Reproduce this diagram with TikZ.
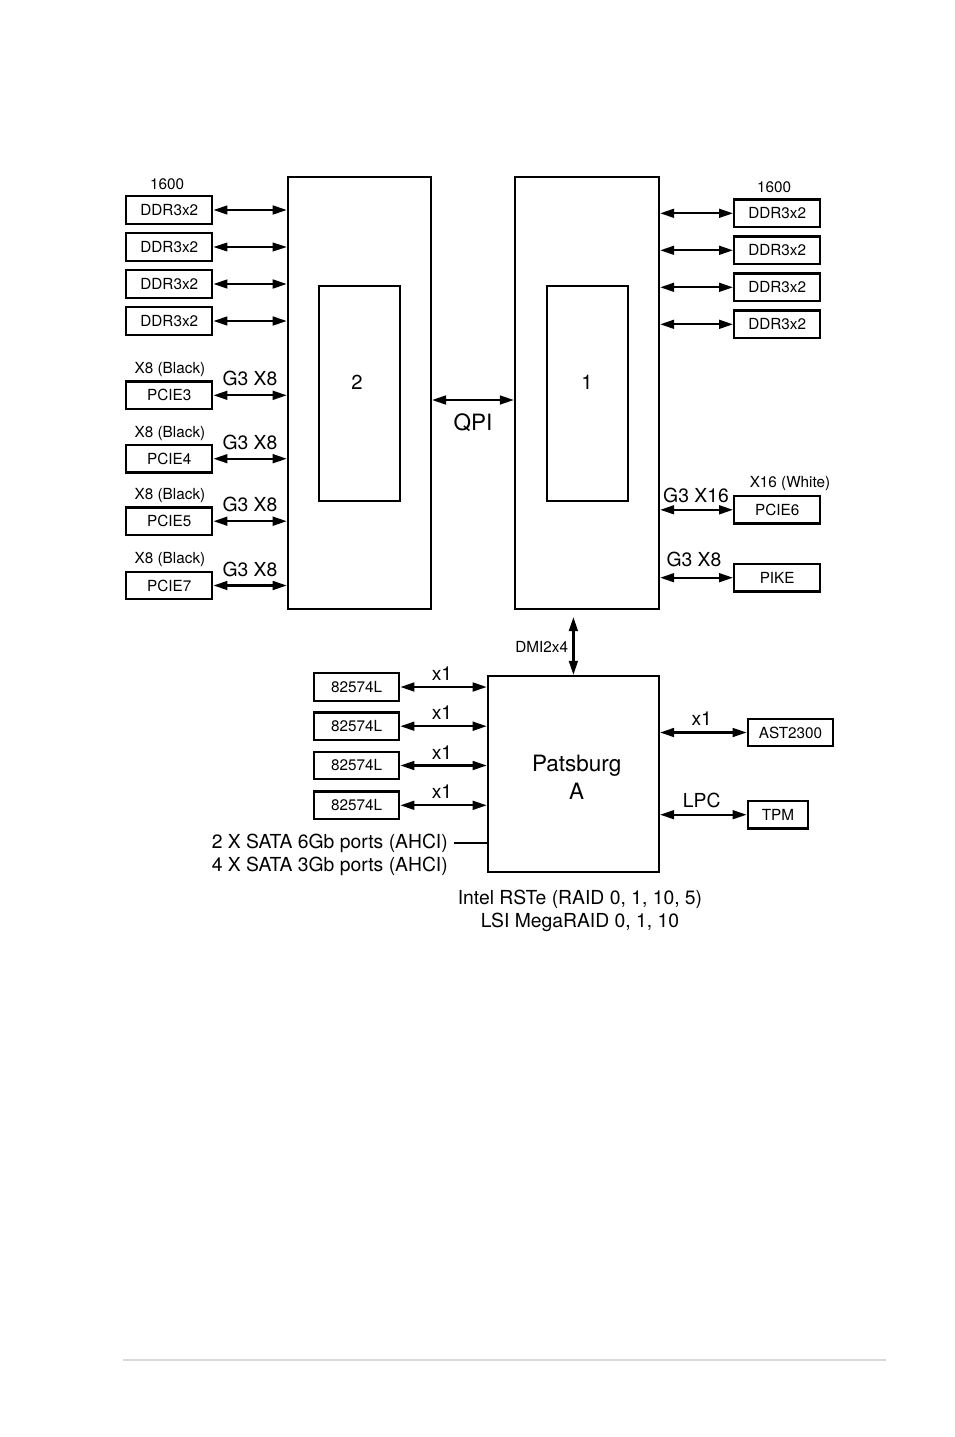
\documentclass[tikz,border=0pt]{standalone}
\usepackage{fontspec}
\setmainfont{TeX Gyre Heros}
\usetikzlibrary{arrows.meta, positioning}

\begin{document}
\begin{tikzpicture}[x=0.02cm, y=-0.02cm,
    chip/.style={draw, line width=1.3pt, inner sep=0pt},
    box/.style={draw, line width=1.3pt, inner sep=0pt, minimum width=1.72cm, minimum height=0.55cm, font=\fontsize{8.7}{10}\selectfont},
    small/.style={font=\fontsize{8.7}{10}\selectfont},
    mid/.style={font=\fontsize{11}{13}\selectfont},
    big/.style={font=\fontsize{12.8}{16}\selectfont},
    link/.style={line width=1.3pt, {Triangle[length=8pt,width=5pt]}-{Triangle[length=8pt,width=5pt]}},
    wire/.style={line width=1.3pt}]
  \useasboundingbox (0,0) rectangle (954,1437);

  \node[chip, minimum width=2.86cm, minimum height=8.64cm] (cpuTwo) at (359.4,393) {};
  \node[chip, minimum width=1.63cm, minimum height=4.3cm] (dieTwo) at (359.4,393.5) {};
  \node[font=\fontsize{11.5}{14}\selectfont] (numTwo) at (357,382) {2};
  \node[chip, minimum width=2.88cm, minimum height=8.64cm] (cpuOne) at (587,393) {};
  \node[chip, minimum width=1.63cm, minimum height=4.3cm] (dieOne) at (587.5,393.5) {};
  \node[font=\fontsize{11.5}{14}\selectfont] (numOne) at (587,382) {1};

  \coordinate (qpi) at (473,400);
  \draw[link] (qpi -| cpuTwo.east) -- (qpi -| cpuOne.west);
  \node[big] (qpiTag) at (473,423) {QPI};

  \node[small] (speedL) at (167,184) {1600};
  \foreach \i/\y/\w in {1/210/1.3pt, 2/247/0.7pt, 3/284/1.3pt, 4/321/1.3pt} {
    \node[box] (dimmL\i) at (169.3,\y) {DDR3x2};
    \draw[link, line width=\w] (dimmL\i.east) -- (dimmL\i -| cpuTwo.west);
  }
  \node[small] (speedR) at (774,187) {1600};
  \foreach \i/\y in {1/213.3, 2/250.3, 3/287.3, 4/324.3} {
    \node[box] (dimmR\i) at (777.2,\y) {DDR3x2};
    \draw[link] (dimmR\i -| cpuOne.east) -- (dimmR\i.west);
  }

  \foreach \n/\y in {3/395.3, 4/458.7, 5/521.2, 7/585.5} {
    \node[box] (slot\n) at (169.3,\y) {PCIE\n};
    \node[small] (tag\n) at (170,\y-25.5) {X8 (Black)};
    \node[mid] (bus\n) at (250,\y-16.5) {G3 X8};
    \draw[link] (slot\n.east) -- (slot\n -| cpuTwo.west);
  }
  \node[box] (slot6) at (777.2,509.8) {PCIE6};
  \node[small] (tag6) at (790,484) {X16 (White)};
  \node[mid] (bus6) at (696,495) {G3 X16};
  \draw[link] (slot6 -| cpuOne.east) -- (slot6.west);
  \node[box] (pike) at (777.2,577.7) {PIKE};
  \node[mid] (busPike) at (694,559.3) {G3 X8};
  \draw[link] (pike -| cpuOne.east) -- (pike.west);

  \node[chip, minimum width=3.42cm, minimum height=3.92cm] (pch) at (573.4,774) {};
  \node[big, align=center] (pchName) at (576.7,777.5) {Patsburg\\A};
  \draw[link, shorten >=0.14cm] (pch.north) -- (pch.north |- cpuOne.south);
  \node[small] (dmiTag) at (541.7,647) {DMI2x4};

  \foreach \i/\y in {1/687, 2/726.2, 3/765.5, 4/805.3} {
    \node[box, minimum width=1.70cm] (nic\i) at (356.7,\y) {82574L};
    \node[mid] (nicBus\i) at (442,\y-13.2) {x1};
    \draw[link] (nic\i.east) -- (nic\i -| pch.west);
  }
  \node[mid, anchor=east] (sataA) at (454,843) {2 X SATA 6Gb ports (AHCI)};
  \node[mid, anchor=east] (sataB) at (454,866) {4 X SATA 3Gb ports (AHCI)};
  \draw[wire] (sataA.east) -- (sataA -| pch.west);

  \node[box, minimum width=1.71cm] (bmc) at (790.5,732.5) {AST2300};
  \node[mid] (bmcBus) at (701.7,718.3) {x1};
  \draw[link] (bmc -| pch.east) -- (bmc.west);
  \node[box, minimum width=1.21cm] (tpm) at (778,814.7) {TPM};
  \node[mid] (tpmBus) at (701.7,800) {LPC};
  \draw[link] (tpm -| pch.east) -- (tpm.west);

  \node[mid, align=center] (raid) at (580,911) {Intel RSTe (RAID 0, 1, 10, 5)\\LSI MegaRAID 0, 1, 10};

  \draw[gray!30, line width=1.2pt] (123,1360) -- (886,1360);
\end{tikzpicture}
\end{document}
